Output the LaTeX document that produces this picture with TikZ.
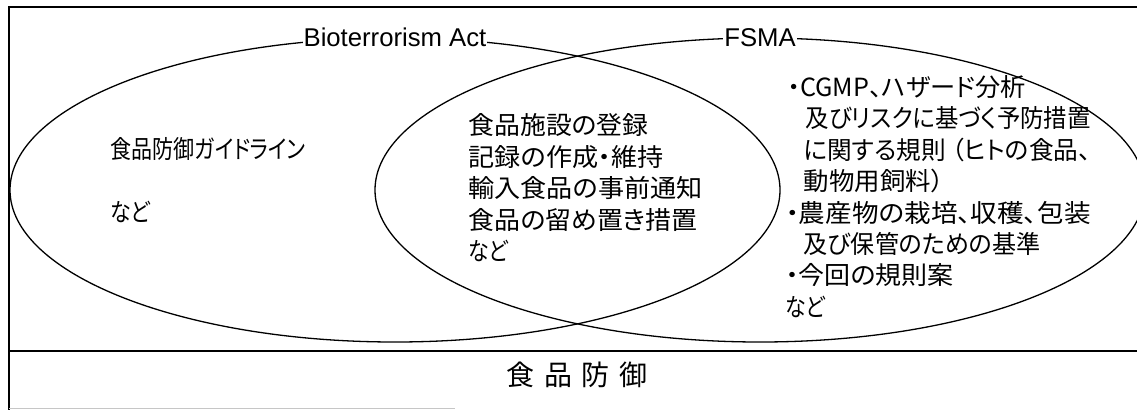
\documentclass[tikz,border=0pt]{standalone}
\usepackage{graphicx}
\usepackage{fontspec}
\setmainfont{Liberation Sans}
\newfontfamily\cjk[RawFeature=+palt]{Noto Sans CJK JP}
\usetikzlibrary{shapes.geometric}
\newcommand{\fitw}[2]{\resizebox{#1}{\height}{#2}}
\begin{document}
\begin{tikzpicture}[x=1pt,y=-1pt, line width=1.3pt,
  venn/.style={draw, ellipse, minimum width=770pt, minimum height=304pt, inner sep=0pt},
  jp/.style={font=\cjk\fontsize{25}{30}\selectfont, anchor=west, inner sep=0pt, text height=0.8em, text depth=0.1em},
  lab/.style={font=\fontsize{25.7}{30}\selectfont, fill=white, inner xsep=1pt, inner ysep=2pt},
  faint/.style={draw=gray!45, line width=1pt}
]
\useasboundingbox (0,0) rectangle (1137,410);
\clip (0,0) rectangle (1137,410);
\fill[white] (0,0) rectangle (1137,410);
% frame
\coordinate (tl) at (9,7);
\coordinate (tr) at (1137,7);
\coordinate (bl) at (9,410);
\coordinate (ml) at (9,351);
\coordinate (mr) at (1137,351);
\coordinate (fl) at (9,408);
\coordinate (fr) at (455,408);
\draw (tr) -- (tl) -- (bl);
\draw (ml) -- (mr);
\draw[faint] (fl) -- (fr);
% ellipses
\node[venn] (bio) at (395,190) {};
\node[venn] (fsma) at (760,190) {};
\node[lab] (biolab) at (bio.north) {Bioterrorism Act};
\node[lab] (fsmalab) at (fsma.north) {FSMA};
% left text
\node[jp] (g1) at (110,155) {\fitw{195pt}{食品防御ガイドライン}};
\node[jp] (g2) at (110,218) {\fitw{40pt}{など}};
% middle text
\node[jp] (m1) at (468,131) {\fitw{180pt}{食品施設の登録}};
\node[jp] (m2) at (468,162.5) {\fitw{195pt}{記録の作成・維持}};
\node[jp] (m3) at (468,194) {\fitw{234pt}{輸入食品の事前通知}};
\node[jp] (m4) at (468,225.5) {\fitw{229pt}{食品の留め置き措置}};
\node[jp] (m5) at (468,257) {\fitw{40pt}{など}};
% right text
\node[jp] (r1) at (787,93) {\fitw{238pt}{・CGMP、ハザード分析}};
\node[jp] (r2) at (805,124.4) {\fitw{285pt}{及びリスクに基づく予防措置}};
\node[jp] (r3) at (803,155.8) {\fitw{287pt}{に関する規則\hspace{6pt}（ヒトの食品、}};
\node[jp] (r4) at (803,187.2) {\fitw{140pt}{動物用飼料）}};
\node[jp] (r5) at (785,218.6) {\fitw{305pt}{・農産物の栽培、収穫、包装}};
\node[jp] (r6) at (803,250) {\fitw{237pt}{及び保管のための基準}};
\node[jp] (r7) at (785,281.4) {\fitw{168pt}{・今回の規則案}};
\node[jp] (r8) at (785,312.8) {\fitw{40pt}{など}};
% bottom
\node[font=\cjk\fontsize{28}{30}\selectfont, inner sep=0pt] (fd) at (577,375) {食\hspace{10pt}品\hspace{10pt}防\hspace{10pt}御};
\end{tikzpicture}
\end{document}
